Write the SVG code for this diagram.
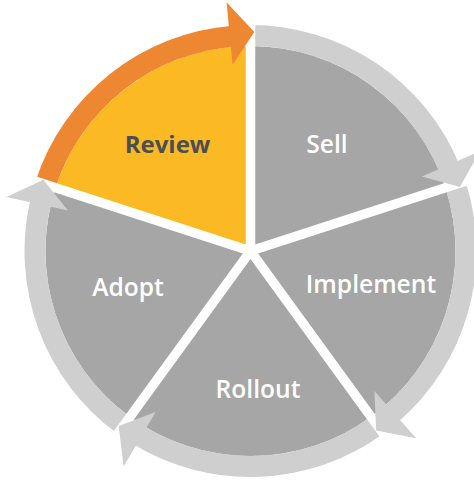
<svg xmlns="http://www.w3.org/2000/svg" width="474" height="480" viewBox="0 0 474 480">
  <style>
    .slice { fill: #a6a6a6; }
    .slice.current { fill: #fbba24; }
    .label { font-family: "Open Sans", "Liberation Sans", sans-serif; font-size: 24.6px; font-weight: 600; fill: #ffffff; text-anchor: middle; }
    .label.current { font-size: 24px; font-weight: 700; fill: #4b4f55; }
    .band { fill: #cfcfcf; }
    .band.current { fill: #ee8731; }
    .divider { stroke: #ffffff; stroke-width: 9.5; fill: none; }
  </style>

  <!-- Pie wedges, centre (250.5, 251), radius 205 -->
  <g id="review">
    <path class="slice current" d="M250.5 251 L55.53 187.65 A205 205 0 0 1 250.5 46 Z"/>
    <text class="label current" x="167.5" y="152.5">Review</text>
  </g>
  <g id="sell">
    <path class="slice" d="M250.5 251 L250.5 46 A205 205 0 0 1 445.47 187.65 Z"/>
    <text class="label" x="327" y="152.5">Sell</text>
  </g>
  <g id="implement">
    <path class="slice" d="M250.5 251 L445.47 187.65 A205 205 0 0 1 371 416.85 Z"/>
    <text class="label" x="371" y="293">Implement</text>
  </g>
  <g id="rollout">
    <path class="slice" d="M250.5 251 L371 416.85 A205 205 0 0 1 129.99 416.85 Z"/>
    <text class="label" x="258" y="398">Rollout</text>
  </g>
  <g id="adopt">
    <path class="slice" d="M250.5 251 L129.99 416.85 A205 205 0 0 1 55.53 187.65 Z"/>
    <text class="label" x="128" y="296">Adopt</text>
  </g>

  <!-- Clockwise cycle arrows on the outer ring -->
  <g id="connectors">
    <!-- ring bands -->
    <path class="band current" d="M35.56 181.16 A226 226 0 0 1 232.77 25.70 L234.42 46.63 A205 205 0 0 0 55.53 187.65 Z"/>
    <path class="band" d="M250.5 25 A226 226 0 0 1 459.30 164.51 L439.90 172.55 A205 205 0 0 0 250.5 46 Z"/>
    <path class="band" d="M465.44 181.16 A226 226 0 0 1 397.28 422.85 L383.64 406.88 A205 205 0 0 0 445.47 187.65 Z"/>
    <path class="band" d="M383.34 433.84 A226 226 0 0 1 132.41 443.70 L143.39 425.79 A205 205 0 0 0 371 416.85 Z"/>
    <path class="band" d="M117.66 433.84 A226 226 0 0 1 30.74 198.24 L51.16 203.14 A205 205 0 0 0 129.99 416.85 Z"/>

    <!-- white gaps between the stages -->
    <path class="divider" d="M250.5 251 L250.5 21 M250.5 251 L469.24 179.93 M250.5 251 L385.69 437.07 M250.5 251 L115.31 437.07 M250.5 251 L31.76 179.93"/>

    <!-- arrowheads -->
    <polygon class="band current" points="226.54,2.15 254.32,32.03 232.58,64.86"/>
    <polygon class="band" points="479.77,151.31 459.93,186.97 421.99,176.43"/>
    <polygon class="band" points="416.16,438.24 376.11,430.39 374.41,391.06"/>
    <polygon class="band" points="123.61,466.41 118.70,425.90 155.59,412.12"/>
    <polygon class="band" points="6.42,196.89 43.43,179.70 67.93,210.53"/>
  </g>
</svg>
